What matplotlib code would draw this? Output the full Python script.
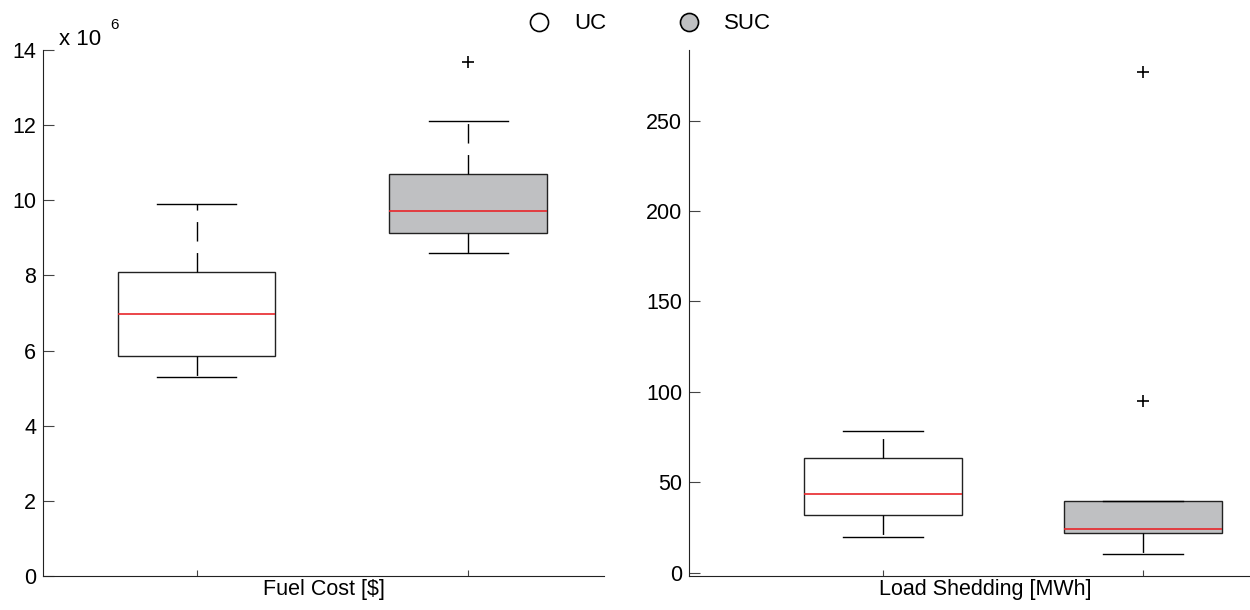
import matplotlib
matplotlib.use('Agg')
import matplotlib.pyplot as plt
from matplotlib.lines import Line2D

plt.rcParams['font.family'] = ['Liberation Sans', 'DejaVu Sans']
plt.rcParams['font.size'] = 15.5

# box statistics
groups = ['UC', 'SUC']
fuel_scale = '6'
fuel_whislo = [5.29, 8.60]
fuel_q1 = [5.86, 9.13]
fuel_med = [6.98, 9.72]
fuel_q3 = [8.10, 10.70]
fuel_whishi = [9.90, 12.12]
fuel_fliers = [[], [13.68]]

shed_whislo = [19.9, 10.6]
shed_q1 = [32.1, 22.2]
shed_med = [43.7, 24.4]
shed_q3 = [63.7, 39.9]
shed_whishi = [78.1, 39.9]
shed_fliers = [[], [95.2, 277.0]]

face_colors = ['white', '#bfc0c2']
WHISKER_DASH = (0, (14, 8.3))


def make_stats(lo, q1, med, q3, hi, fliers):
    stats = []
    for i in range(len(groups)):
        stats.append({'whislo': lo[i], 'q1': q1[i], 'med': med[i], 'q3': q3[i],
                      'whishi': hi[i], 'fliers': fliers[i], 'label': groups[i]})
    return stats


def draw_box(ax, stats, width):
    bp = ax.bxp(stats, positions=[1, 2], widths=width, capwidths=width / 2,
                patch_artist=True, showfliers=True,
                boxprops=dict(edgecolor='#222222', linewidth=1.0),
                medianprops=dict(color='#e8262a', linewidth=1.2),
                whiskerprops=dict(color='black', linewidth=1.0, linestyle=WHISKER_DASH),
                capprops=dict(color='black', linewidth=1.0),
                flierprops=dict(marker='+', markersize=9, markeredgecolor='black',
                                markeredgewidth=1.2, linestyle='none'))
    for patch, fc in zip(bp['boxes'], face_colors):
        patch.set_facecolor(fc)
    ax.spines['top'].set_visible(False)
    ax.spines['right'].set_visible(False)
    ax.spines['left'].set_color('#222222')
    ax.spines['bottom'].set_color('#222222')
    ax.tick_params(axis='y', direction='in', length=8, width=0.8, pad=5,
                   color='#444444')
    ax.tick_params(axis='x', direction='in', length=4, width=0.8,
                   labelbottom=False, color='#444444')
    return bp


fig = plt.figure(figsize=(12.5, 6.1), dpi=100)

# left: fuel cost
ax1 = fig.add_axes([0.0344, 0.0557, 0.4488, 0.8623])
draw_box(ax1, make_stats(fuel_whislo, fuel_q1, fuel_med, fuel_q3, fuel_whishi, fuel_fliers), 0.58)
ax1.set_xlim(0.434, 2.50)
ax1.set_ylim(0, 14)
ax1.set_yticks([0, 2, 4, 6, 8, 10, 12, 14])
ax1.set_xlabel('Fuel Cost [$]', labelpad=2)
fig.text(0.047, 0.926, 'x 10', fontsize=16, ha='left', va='baseline')
fig.text(0.088, 0.953, fuel_scale, fontsize=11, ha='left', va='baseline')

# right: load shedding (axes runs a little past the figure edge, as in the original)
ax2 = fig.add_axes([0.5512, 0.0557, 0.4736, 0.8623])
draw_box(ax2, make_stats(shed_whislo, shed_q1, shed_med, shed_q3, shed_whishi, shed_fliers), 0.61)
ax2.set_xlim(0.254, 2.531)
ax2.set_ylim(-1.8, 289)
ax2.set_yticks([0, 50, 100, 150, 200, 250])
ax2.set_xlabel('Load Shedding [MWh]', labelpad=2)

# legend drawn by hand in figure coords
legend_x = [0.431, 0.551]
for fc, name, lx in zip(face_colors, groups, legend_x):
    fig.add_artist(Line2D([lx], [0.964], transform=fig.transFigure, linestyle='none',
                          marker='o', markersize=13, markerfacecolor=fc,
                          markeredgecolor='black', markeredgewidth=1.2))
    fig.text(lx + 0.0285, 0.962, name, fontsize=16, ha='left', va='center')

fig.savefig('out.png', dpi=100)
